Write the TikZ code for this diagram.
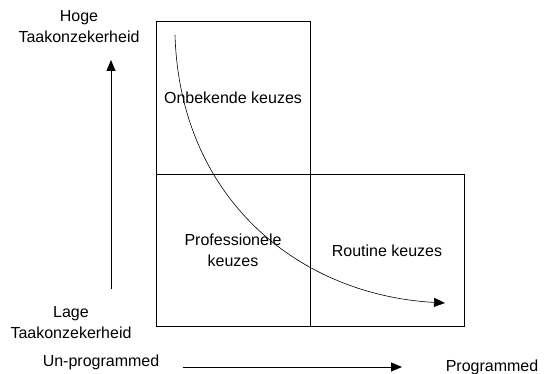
\documentclass[tikz,border=0pt]{standalone}
\usepackage{fontspec}
\setmainfont{Liberation Sans}
\usetikzlibrary{arrows.meta}
\begin{document}
\begin{tikzpicture}[x=1pt,y=-1pt,
  every node/.style={font=\fontsize{16}{21}\selectfont, align=center, inner sep=0pt},
  cell/.style={draw, line width=0.9pt, minimum width=154pt, minimum height=152.5pt},
  axis/.style={line width=0.9pt, -{Triangle[length=11pt,width=9pt]}},
  trend/.style={line width=0.6pt, -{Triangle[length=11pt,width=9pt]}}]
  \useasboundingbox (0,0) rectangle (553,374);

  % the three cells of the matrix
  \node[cell] (unknown) at (233,98) {Onbekende keuzes};
  \node[cell] (prof) at (233,250.5) {Professionele\\keuzes};
  \node[cell] (routine) at (387,250.5) {Routine keuzes};

  % axis captions
  \node (high) at (79,27) {Hoge\\Taakonzekerheid};
  \node (low) at (71,323) {Lage\\Taakonzekerheid};
  \node (unprog) at (101,362) {Un-programmed};
  \node (prog) at (492,367) {Programmed};

  % axis arrows
  \coordinate (vfrom) at (111,289);
  \coordinate (vto) at (111,60);
  \coordinate (hfrom) at (183,367);
  \coordinate (hto) at (402,367);
  \draw[axis] (vfrom) -- (vto);
  \draw[axis] (hfrom) -- (hto);

  % trend curve from unknown to routine choices
  \coordinate (cstart) at (175,35);
  \coordinate (cend) at (445,303);
  \draw[trend] (cstart) .. controls (180,200) and (300,295) .. (cend);
\end{tikzpicture}
\end{document}
